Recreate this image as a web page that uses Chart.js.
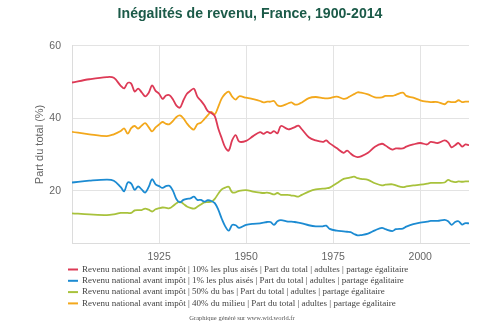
<!DOCTYPE html>
<html>
<head>
<meta charset="utf-8">
<script src="https://cdn.jsdelivr.net/npm/chart.js@4/dist/chart.umd.min.js"></script>
<style>
  html, body { margin: 0; padding: 0; background: #fff; }
  #wrap { width: 500px; height: 325px; }
</style>
</head>
<body>
<div id="wrap"><canvas id="ineq"></canvas></div>
<script>
const years = [1900, 1905, 1910, 1912,
  1914, 1915, 1916, 1917, 1918, 1919, 1920, 1921, 1922, 1923, 1924, 1925, 1926, 1927, 1928, 1929,
  1930, 1931, 1932, 1933, 1934, 1935, 1936, 1937, 1938, 1939, 1940, 1941, 1942, 1943, 1944, 1945,
  1946, 1947, 1948, 1950, 1952, 1954, 1955, 1956, 1957, 1958, 1959, 1960,
  1962, 1963, 1964, 1965, 1966, 1968, 1970, 1972, 1973, 1974,
  1976, 1978, 1979, 1980, 1981, 1982, 1983,
  1985, 1987, 1989, 1990, 1992, 1993, 1995, 1996, 1998,
  2000, 2002, 2003, 2005, 2007, 2008, 2009, 2010, 2011, 2012, 2013, 2014]

// top 10%
const top10 = [49.9, 50.8, 51.4, 51.2,
  49.0, 48.3, 49.8, 49.6, 47.4, 48.2, 47.2, 46.1, 47.0, 49.1, 47.6, 46.8, 45.4, 46.3, 46.4, 45.2,
  43.5, 43.0, 45.0, 46.8, 47.6, 48.2, 46.0, 44.9, 43.6, 42.0, 41.5, 40.6, 37.2, 34.5, 32.0, 31.1,
  34.0, 35.4, 33.6, 33.8, 35.1, 36.2, 35.7, 36.3, 35.9, 36.5, 35.9, 37.9,
  37.0, 37.2, 37.6, 38.0, 37.0, 34.8, 33.9, 33.5, 33.9, 33.1,
  31.8, 30.5, 31.1, 30.3, 29.6, 29.3, 29.5,
  30.5, 32.2, 33.0, 32.5, 31.4, 31.7, 31.7, 32.2, 32.8,
  33.2, 32.8, 33.5, 33.2, 33.9, 33.4, 32.0, 32.6, 33.2, 32.2, 32.8, 32.6]

// top 1%
const top1 = [22.3, 22.8, 23.1, 22.8,
  21.0, 19.9, 22.3, 22.0, 20.3, 21.2, 20.4, 19.5, 21.0, 23.2, 21.8, 21.3, 20.8, 21.3, 21.4, 20.0,
  17.7, 16.8, 17.5, 17.8, 17.9, 18.4, 17.5, 17.5, 17.0, 17.4, 17.2, 16.6, 14.8, 12.3, 10.2, 9.0,
  10.6, 10.5, 9.8, 10.6, 10.9, 11.0, 11.2, 11.4, 11.4, 10.6, 11.6, 11.9,
  11.5, 11.5, 11.4, 11.2, 11.0, 10.5, 10.2, 10.2, 10.4, 9.5,
  9.0, 8.8, 8.7, 8.6, 8.1, 7.7, 7.8,
  8.2, 9.1, 9.8, 9.4, 8.9, 9.4, 9.6, 10.1, 10.8,
  11.2, 11.5, 11.7, 11.7, 12.0, 11.6, 10.6, 11.4, 11.6, 10.7, 11.1, 11.0]

// bottom 50%
const bottom50 = [13.8, 13.5, 13.3, 13.5,
  13.9, 13.9, 13.9, 13.9, 14.6, 14.7, 14.7, 15.1, 14.8, 14.3, 14.9, 15.2, 15.4, 15.3, 15.2, 15.8,
  16.6, 17.0, 16.4, 15.7, 15.3, 15.1, 15.6, 16.2, 16.8, 16.9, 17.0, 17.8, 19.2, 20.4, 20.9, 21.1,
  19.6, 19.6, 20.0, 20.2, 19.8, 19.5, 19.4, 19.5, 19.3, 19.0, 19.4, 18.9,
  18.9, 18.7, 18.6, 18.4, 18.9, 19.8, 20.4, 20.6, 20.7, 20.9,
  22.1, 23.3, 23.5, 23.7, 23.9, 23.5, 23.3,
  23.0, 22.1, 21.5, 21.7, 21.8, 21.5, 21.0, 21.2, 21.5,
  21.7, 22.0, 22.2, 22.2, 22.3, 23.0, 22.6, 22.4, 22.6, 22.5, 22.6, 22.6]

// middle 40%
const middle40 = [36.3, 35.6, 35.1, 35.6,
  36.5, 37.2, 35.8, 37.3, 37.9, 37.2, 38.0, 38.7, 37.6, 36.4, 37.5, 38.3, 39.0, 38.5, 38.4, 39.3,
  40.4, 40.8, 40.0, 38.6, 37.5, 36.9, 38.4, 38.8, 39.8, 40.9, 41.8, 41.1, 43.2, 45.5, 46.8, 47.4,
  46.0, 45.2, 46.1, 45.7, 45.3, 44.8, 44.4, 44.6, 44.6, 44.8, 43.6, 43.4,
  44.1, 44.4, 43.8, 43.9, 44.4, 45.6, 45.9, 45.6, 45.5, 45.6,
  46.0, 45.4, 45.6, 46.2, 46.7, 47.2, 47.1,
  46.6, 45.8, 45.8, 46.2, 46.2, 46.5, 47.1, 46.2, 45.7,
  45.0, 44.6, 44.5, 44.5, 43.9, 44.6, 44.5, 44.5, 45.0, 44.5, 44.6, 44.6]

const seriesNames = [
  'Revenu national avant impôt | 10% les plus aisés | Part du total | adultes | partage égalitaire',
  'Revenu national avant impôt | 1% les plus aisés | Part du total | adultes | partage égalitaire',
  'Revenu national avant impôt | 50% du bas | Part du total | adultes | partage égalitaire',
  'Revenu national avant impôt | 40% du milieu | Part du total | adultes | partage égalitaire'
]
const seriesColors = ['#dd3a56', '#1c8bd2', '#a8c23c', '#f3a81c']
const xTicks = [1925, 1950, 1975, 2000]
const yTicks = [20, 40, 60]

function toPoints(vals) {
  return years.map((yr, i) => ({ x: yr, y: vals[i] }))
}

const allSeries = [top10, top1, bottom50, middle40]

// legend rows + source line underneath the axis
const bottomLegend = {
  id: 'bottomLegend',
  afterDraw(chart) {
    const ctx = chart.ctx
    ctx.save()
    ctx.textBaseline = 'middle'
    ctx.textAlign = 'left'
    ctx.font = '9px "Liberation Serif", serif'
    chart.data.datasets.forEach((ds, i) => {
      const y = 269.5 + i * 11.3
      ctx.strokeStyle = ds.borderColor
      ctx.lineWidth = 2
      ctx.beginPath()
      ctx.moveTo(68, y)
      ctx.lineTo(78, y)
      ctx.stroke()
      ctx.fillStyle = '#444'
      ctx.fillText(ds.label, 82, y)
    })
    ctx.font = '6.5px "Liberation Serif", serif'
    ctx.textAlign = 'center'
    ctx.fillStyle = '#555'
    ctx.fillText('Graphique généré sur www.wid.world.fr', 242, 318)
    ctx.restore()
  }
}

new Chart(document.getElementById('ineq'), {
  type: 'line',
  data: {
    datasets: allSeries.map((vals, i) => ({
      label: seriesNames[i],
      data: toPoints(vals),
      borderColor: seriesColors[i],
      backgroundColor: seriesColors[i],
      borderWidth: 1.8,
      pointRadius: 0,
      tension: 0.35,
      fill: false
    }))
  },
  options: {
    responsive: true,
    maintainAspectRatio: false,
    animation: false,
    layout: { padding: { top: 0, right: 0, bottom: 62, left: 0 } },
    plugins: {
      legend: { display: false },
      tooltip: { enabled: false },
      title: {
        display: true,
        text: 'Inégalités de revenu, France, 1900-2014',
        color: '#1b5a48',
        font: { family: '"Liberation Sans", Arial, sans-serif', size: 14.1, weight: 'bold' },
        padding: { top: 6, bottom: 23 }
      }
    },
    scales: {
      x: {
        type: 'linear',
        min: 1900,
        max: 2014,
        afterBuildTicks: s => { s.ticks = [1900].concat(xTicks).map(v => ({ value: v })) },
        afterFit: s => { s.height = 20 },
        grid: { color: '#e3e3e3', drawTicks: false },
        border: { color: '#dcdcdc' },
        ticks: {
          padding: 8,
          color: '#666',
          font: { family: '"Liberation Sans", Arial, sans-serif', size: 10.5 },
          maxRotation: 0,
          callback: v => (v === 1900 ? '' : String(v))
        }
      },
      y: {
        min: 5.6,
        max: 60,
        afterBuildTicks: s => { s.ticks = yTicks.map(v => ({ value: v })) },
        afterFit: s => { s.width = 72 },
        grid: { color: '#e3e3e3', drawTicks: false },
        border: { color: '#dcdcdc' },
        ticks: {
          padding: 11,
          color: '#666',
          font: { family: '"Liberation Sans", Arial, sans-serif', size: 10.5 }
        },
        title: {
          display: true,
          text: 'Part du total (%)',
          color: '#666',
          font: { family: '"Liberation Sans", Arial, sans-serif', size: 11 },
          padding: { top: 33, bottom: 0 }
        }
      },
      // empty right-hand margin so the title stays centred on the page
      yRight: {
        position: 'right',
        min: 5.6,
        max: 60,
        afterFit: s => { s.width = 31 },
        grid: { display: false },
        border: { display: false },
        ticks: { display: false }
      }
    }
  },
  plugins: [bottomLegend]
})
</script>
</body>
</html>
